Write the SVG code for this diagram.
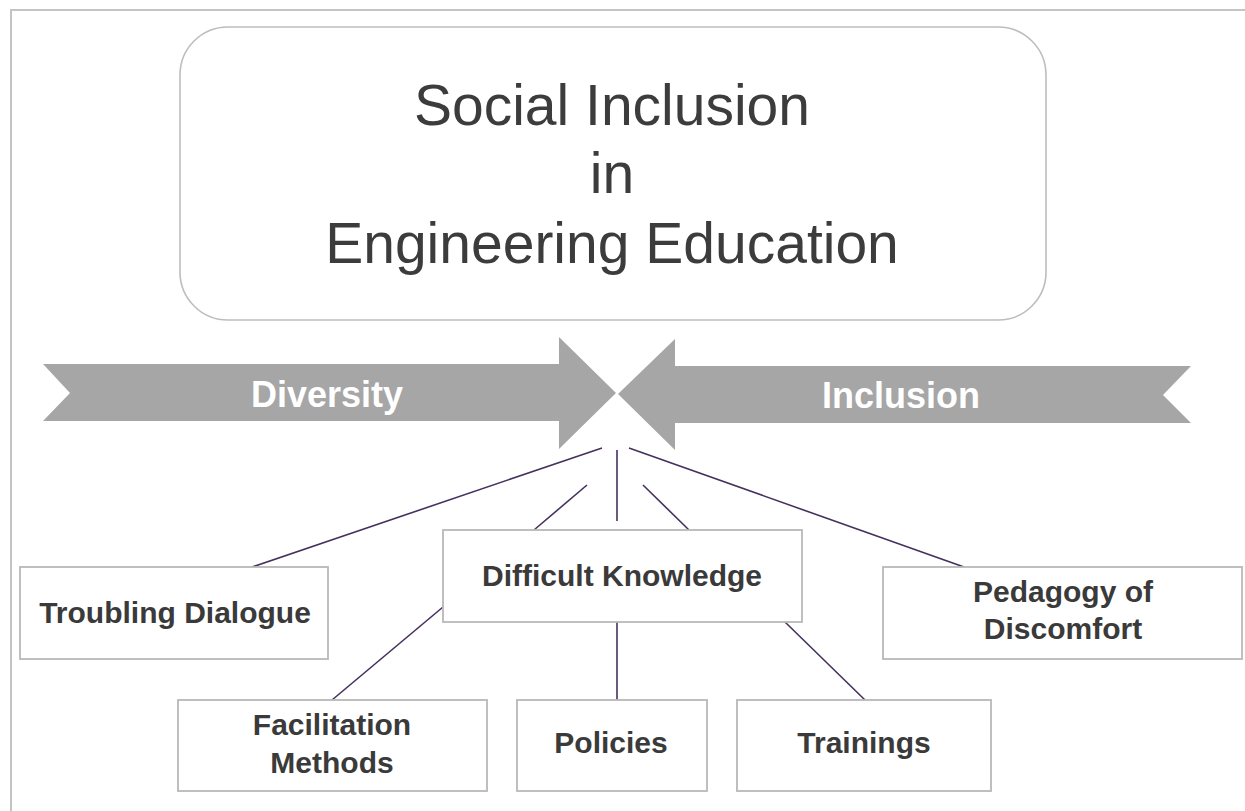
<svg xmlns="http://www.w3.org/2000/svg" width="1245" height="811" viewBox="0 0 1245 811">
  <style>
    .frame { fill: none; stroke: #c4c4c4; stroke-width: 2; }
    .title-box { fill: #ffffff; stroke: #bdbdbd; stroke-width: 1.6; }
    .title { font-family: "Liberation Sans", Arial, sans-serif; font-size: 57px; fill: #3c3c3c; text-anchor: middle; }
    .band { fill: #a6a6a6; }
    .band-label { font-family: "Liberation Sans", Arial, sans-serif; font-size: 36px; font-weight: bold; fill: #ffffff; text-anchor: middle; }
    .box { fill: #ffffff; stroke: #b8b8b8; stroke-width: 1.8; }
    .label { font-family: "Liberation Sans", Arial, sans-serif; font-size: 30px; font-weight: bold; fill: #3a3a3a; text-anchor: middle; }
    .link { stroke: #46305e; stroke-width: 1.6; fill: none; }
  </style>

  <rect width="1245" height="811" fill="#ffffff"/>

  <!-- page frame, open to the right and bottom -->
  <path class="frame" d="M11,811 V10 H1245"/>

  <g id="title">
    <rect class="title-box" x="180" y="27" width="866" height="293" rx="48" ry="48"/>
    <text class="title" x="612" y="125">Social Inclusion</text>
    <text class="title" x="612" y="193">in</text>
    <text class="title" x="612" y="263">Engineering Education</text>
  </g>

  <g id="diversity">
    <polygon class="band" points="43,364 559,364 559,337 616,393 559,449 559,421 43,421 70,393"/>
    <text class="band-label" x="327" y="407">Diversity</text>
  </g>

  <g id="inclusion">
    <polygon class="band" points="618,394 675,339 675,366 1191,366 1163,395 1191,423 675,423 675,450"/>
    <text class="band-label" x="901" y="408">Inclusion</text>
  </g>

  <g id="connectors">
    <line class="link" x1="602" y1="448" x2="252" y2="567"/>
    <line class="link" x1="617" y1="450" x2="617" y2="521"/>
    <line class="link" x1="587" y1="485" x2="534" y2="530"/>
    <line class="link" x1="643" y1="485" x2="689" y2="530"/>
    <line class="link" x1="629" y1="448" x2="964" y2="567"/>
    <line class="link" x1="617" y1="622" x2="617" y2="700"/>
    <line class="link" x1="443" y1="607" x2="332" y2="700"/>
    <line class="link" x1="785" y1="622" x2="865" y2="700"/>
  </g>

  <g id="troubling-dialogue">
    <rect class="box" x="20" y="567" width="308" height="92"/>
    <text class="label" x="175" y="623">Troubling Dialogue</text>
  </g>

  <g id="difficult-knowledge">
    <rect class="box" x="443" y="530" width="359" height="92"/>
    <text class="label" x="622" y="586">Difficult Knowledge</text>
  </g>

  <g id="pedagogy-of-discomfort">
    <rect class="box" x="883" y="567" width="359" height="92"/>
    <text class="label" x="1063" y="602">Pedagogy of</text>
    <text class="label" x="1063" y="639">Discomfort</text>
  </g>

  <g id="facilitation-methods">
    <rect class="box" x="178" y="700" width="309" height="91"/>
    <text class="label" x="332" y="735">Facilitation</text>
    <text class="label" x="332" y="773">Methods</text>
  </g>

  <g id="policies">
    <rect class="box" x="517" y="700" width="190" height="91"/>
    <text class="label" x="611" y="753">Policies</text>
  </g>

  <g id="trainings">
    <rect class="box" x="737" y="700" width="254" height="91"/>
    <text class="label" x="864" y="753">Trainings</text>
  </g>
</svg>
